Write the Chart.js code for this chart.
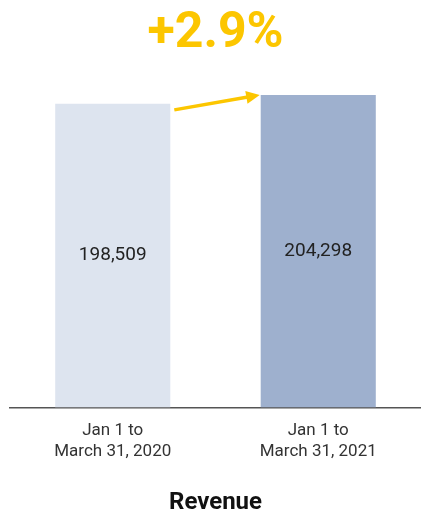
<!DOCTYPE html>
<html>
<head>
<meta charset="utf-8">
<script src="https://cdn.jsdelivr.net/npm/chart.js@4"></script>
<style>
  body { margin: 0; background: #fff; }
  #wrap { width: 421px; height: 511px; }
</style>
</head>
<body>
<div id="wrap"><canvas id="revenueChart"></canvas></div>
<script>
// Chart data
const periods = [['Jan 1 to', 'March 31, 2020'], ['Jan 1 to', 'March 31, 2021']];
const revenue = [198509, 204298];
const barColors = ['#dde4ef', '#9eb0ce'];
const changeLabel = '+2.9%';
const yellow = '#fcc600';

// Value labels centered inside each bar
const valueLabels = {
    id: 'valueLabels',
    afterDatasetsDraw(chart) {
        const ctx = chart.ctx;
        const meta = chart.getDatasetMeta(0);
        ctx.save();
        ctx.font = '19px Roboto';
        ctx.fillStyle = '#222';
        ctx.textAlign = 'center';
        ctx.textBaseline = 'middle';
        meta.data.forEach((bar, i) => {
            const mid = (bar.y + bar.base) / 2;
            ctx.fillText(revenue[i].toLocaleString('en-US'), bar.x, mid);
        });
        ctx.restore();
    }
};

// Arrow from first bar top to second bar top
const growthArrow = {
    id: 'growthArrow',
    afterDatasetsDraw(chart) {
        const ctx = chart.ctx;
        const bars = chart.getDatasetMeta(0).data;
        const a = bars[0], b = bars[1];
        const x1 = a.x + a.width / 2 + 4, y1 = a.y + 6;
        const x2 = b.x - b.width / 2 - 1, y2 = b.y;
        const ang = Math.atan2(y2 - y1, x2 - x1);
        const head = 15;
        ctx.save();
        ctx.strokeStyle = yellow;
        ctx.fillStyle = yellow;
        ctx.lineWidth = 3.5;
        ctx.beginPath();
        ctx.moveTo(x1, y1);
        ctx.lineTo(x2 - head * 0.7 * Math.cos(ang), y2 - head * 0.7 * Math.sin(ang));
        ctx.stroke();
        ctx.beginPath();
        ctx.moveTo(x2, y2);
        ctx.lineTo(x2 - head * Math.cos(ang - 0.45), y2 - head * Math.sin(ang - 0.45));
        ctx.lineTo(x2 - head * Math.cos(ang + 0.45), y2 - head * Math.sin(ang + 0.45));
        ctx.closePath();
        ctx.fill();
        ctx.restore();
    }
};

new Chart(document.getElementById('revenueChart'), {
    type: 'bar',
    data: {
        labels: periods,
        datasets: [{
            data: revenue,
            backgroundColor: barColors,
            barPercentage: 0.56,
            categoryPercentage: 1
        }]
    },
    options: {
        responsive: true,
        maintainAspectRatio: false,
        animation: false,
        layout: { padding: { left: 10, right: 0, top: 4, bottom: 0 } },
        plugins: {
            legend: { display: false },
            tooltip: { enabled: false },
            title: {
                display: true,
                text: changeLabel,
                color: yellow,
                font: { family: 'Roboto', size: 50, weight: 'bold', lineHeight: 1.2 },
                padding: { top: 0, bottom: 7 }
            }
        },
        scales: {
            y: {
                display: false,
                min: 0,
                max: 220000
            },
            x: {
                grid: { display: false, drawTicks: false },
                border: { color: '#555', width: 1.5 },
                ticks: {
                    color: '#333',
                    padding: 12,
                    font: { family: 'Roboto', size: 17, lineHeight: 1.28 }
                },
                title: {
                    display: true,
                    text: 'Revenue',
                    color: '#111',
                    font: { family: 'Roboto', size: 24, weight: 'bold', lineHeight: 1 },
                    padding: { top: 16, bottom: -4 }
                }
            }
        }
    },
    plugins: [valueLabels, growthArrow]
});
</script>
</body>
</html>
